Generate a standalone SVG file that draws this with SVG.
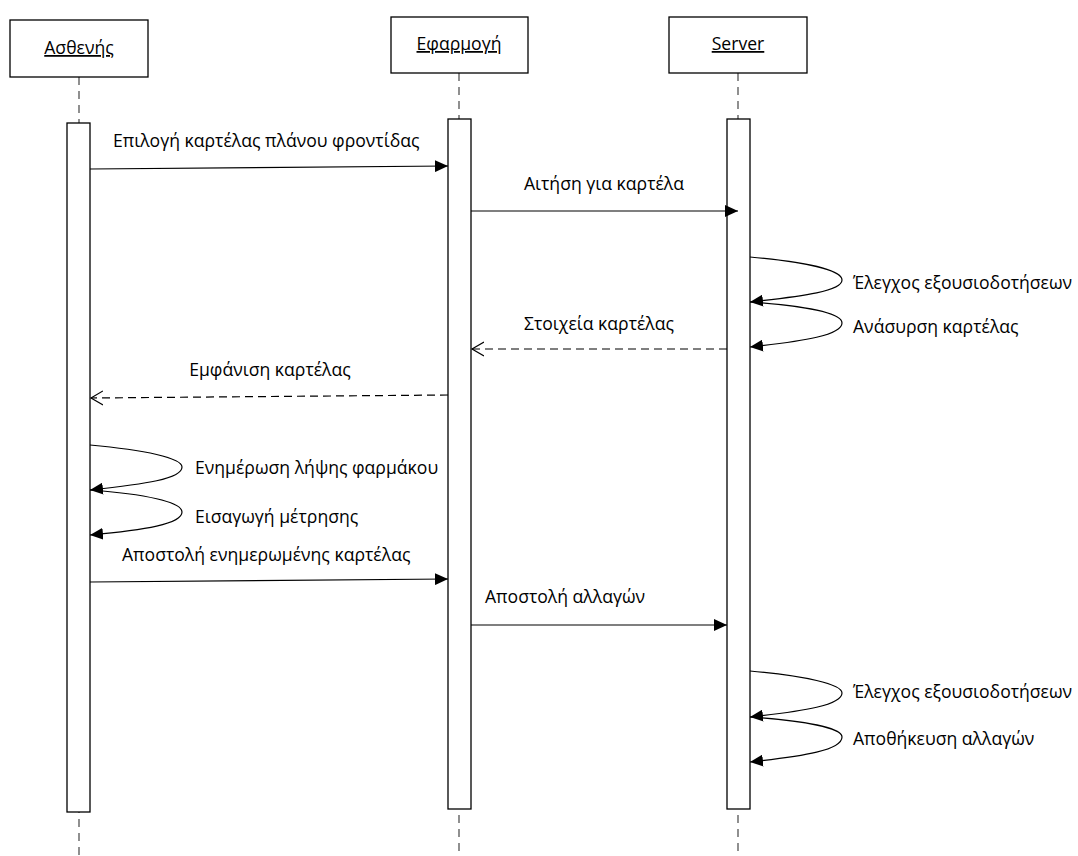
<svg xmlns="http://www.w3.org/2000/svg" width="1078" height="856" viewBox="0 0 1078 856">
<style>
.box{fill:#fff;stroke:#000;stroke-width:1.3}
.life{stroke:#555;stroke-width:1.3;stroke-dasharray:8,6;fill:none}
.act{fill:#fff;stroke:#000;stroke-width:1.3}
.msg{stroke:#000;stroke-width:1.2;fill:none}
.ret{stroke:#000;stroke-width:1.2;fill:none;stroke-dasharray:8,5}
text{font-family:"Open Sans","Noto Sans",sans-serif;font-size:17.6px;fill:#000}
.t{text-decoration:underline}
</style>
<defs>
<marker id="fill" markerWidth="14" markerHeight="12" refX="13" refY="6" orient="auto" markerUnits="userSpaceOnUse">
<path d="M0,0 L13,6 L0,12 Z" fill="#000"/>
</marker>
<marker id="open" markerWidth="16" markerHeight="16" refX="12" refY="8" orient="auto" markerUnits="userSpaceOnUse">
<path d="M0,1 L12,8 L0,15" fill="none" stroke="#000" stroke-width="1.2"/>
</marker>
</defs>
<g id="lifelines">
<line class="life" x1="79" y1="77" x2="79" y2="856"/>
<line class="life" x1="459" y1="73" x2="459" y2="856"/>
<line class="life" x1="738" y1="73" x2="738" y2="856"/>
</g>
<g id="node-patient">
<rect class="box" x="10" y="20" width="138" height="57"/>
<text class="t" x="79" y="54" text-anchor="middle">Ασθενής</text>
<rect class="act" x="67" y="123" width="23" height="689"/>
</g>
<g id="node-app">
<rect class="box" x="391" y="17" width="137" height="56"/>
<text class="t" x="459" y="50" text-anchor="middle">Εφαρμογή</text>
<rect class="act" x="448" y="119" width="23" height="690"/>
</g>
<g id="node-server">
<rect class="box" x="669" y="17" width="138" height="56"/>
<text class="t" x="738" y="50" text-anchor="middle">Server</text>
<rect class="act" x="727" y="119" width="23" height="690"/>
</g>
<g id="connectors">
<line class="msg" x1="90" y1="169" x2="448" y2="166" marker-end="url(#fill)"/>
<line class="msg" x1="471" y1="211" x2="738" y2="211" marker-end="url(#fill)"/>
<path class="msg" d="M750,257 C805,262 842,270 842,280 C842,291 805,296 750,302" marker-end="url(#fill)"/>
<path class="msg" d="M750,302 C805,306 842,313 842,323 C842,335 805,341 750,347" marker-end="url(#fill)"/>
<line class="ret" x1="727" y1="349" x2="472" y2="349" marker-end="url(#open)"/>
<line class="ret" x1="448" y1="395" x2="91" y2="398" marker-end="url(#open)"/>
<path class="msg" d="M90,445 C145,450 182,458 182,467 C182,479 145,484 90,490" marker-end="url(#fill)"/>
<path class="msg" d="M90,490 C145,494 182,502 182,512 C182,524 145,530 90,535" marker-end="url(#fill)"/>
<line class="msg" x1="90" y1="582" x2="448" y2="579" marker-end="url(#fill)"/>
<line class="msg" x1="471" y1="625" x2="727" y2="625" marker-end="url(#fill)"/>
<path class="msg" d="M750,671 C805,676 842,684 842,693 C842,705 805,711 750,717" marker-end="url(#fill)"/>
<path class="msg" d="M750,717 C805,721 842,728 842,737 C842,750 805,756 750,762" marker-end="url(#fill)"/>
</g>
<g id="labels">
<text x="113" y="147">Επιλογή καρτέλας πλάνου φροντίδας</text>
<text x="604" y="190" text-anchor="middle">Αιτήση για καρτέλα</text>
<text x="853" y="289">Έλεγχος εξουσιοδοτήσεων</text>
<text x="853" y="333">Ανάσυρση καρτέλας</text>
<text x="599" y="330" text-anchor="middle">Στοιχεία καρτέλας</text>
<text x="270" y="376" text-anchor="middle">Εμφάνιση καρτέλας</text>
<text x="195" y="474">Ενημέρωση λήψης φαρμάκου</text>
<text x="195" y="523">Εισαγωγή μέτρησης</text>
<text x="122" y="561">Αποστολή ενημερωμένης καρτέλας</text>
<text x="565" y="603" text-anchor="middle">Αποστολή αλλαγών</text>
<text x="853" y="698">Έλεγχος εξουσιοδοτήσεων</text>
<text x="853" y="745">Αποθήκευση αλλαγών</text>
</g>
</svg>
